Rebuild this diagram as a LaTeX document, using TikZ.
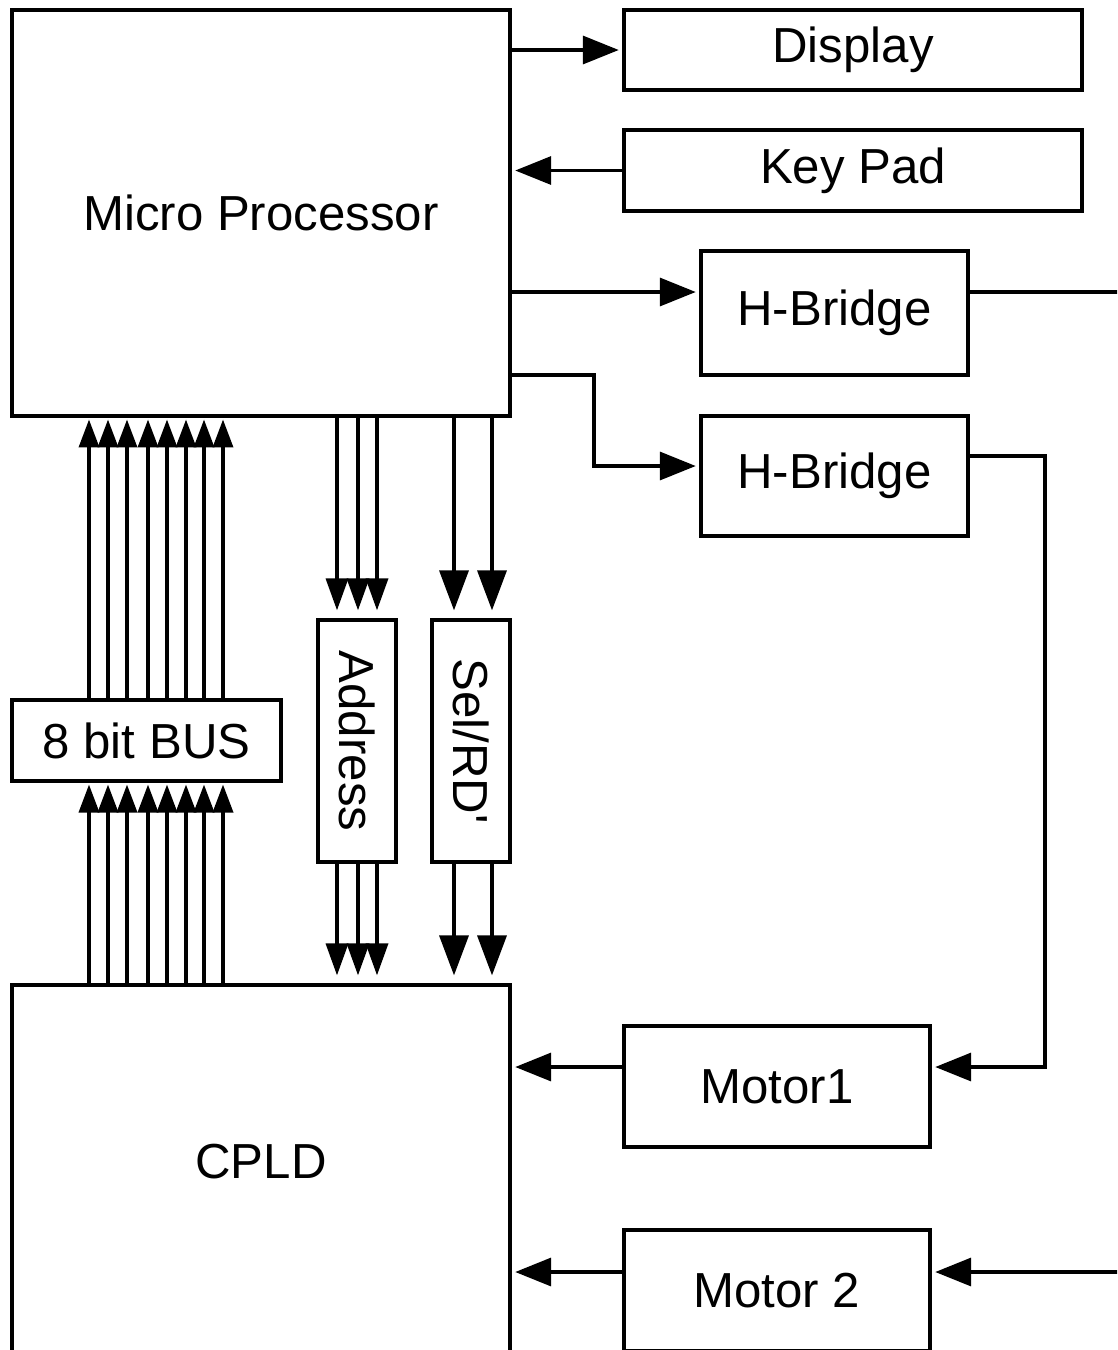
\documentclass[tikz,border=0pt]{standalone}
\usepackage{fontspec}
\setmainfont{Liberation Sans}
\usetikzlibrary{arrows.meta,calc}
\tikzset{
  block node/.style={draw=black,line width=2pt,inner sep=0pt,
    font=\fontsize{28}{32}\selectfont},
  sig arrow/.style={-{Triangle[length=0.72cm,width=0.56cm]},line width=2pt,
    shorten >=2pt},
  bus arrow/.style={-{Triangle[length=0.56cm,width=0.4cm]},line width=2pt,
    shorten >=1pt},
  addr arrow/.style={-{Triangle[length=0.64cm,width=0.44cm]},line width=2pt,
    shorten >=4.5pt},
  sel arrow/.style={-{Triangle[length=0.8cm,width=0.58cm]},line width=2pt,
    shorten >=4.5pt},
  plain wire/.style={line width=2pt}
}

\begin{document}
\begin{tikzpicture}[x=0.02cm,y=-0.02cm]
    \useasboundingbox (0,0) rectangle (1117,1350);
    \clip (0,0) rectangle (1117,1350);
    % blocks
    \node[block node,minimum width=9.96cm,minimum height=8.12cm] (mp) at (261,213)
      {Micro Processor};
    \node[block node,minimum width=9.16cm,minimum height=1.6cm] (disp) at (853,50)
      {Display};
    \node[block node,minimum width=9.16cm,minimum height=1.62cm] (keys) at (853,170.5)
      {Key Pad};
    \node[block node,minimum width=5.34cm,minimum height=2.48cm] (hb1) at (834.5,313)
      {H-Bridge};
    \node[block node,minimum width=5.34cm,minimum height=2.4cm] (hb2) at (834.5,476)
      {H-Bridge};
    \node[block node,minimum width=5.38cm,minimum height=1.62cm] (bus) at (146.5,740.5)
      {8 bit BUS};
    \node[block node,minimum width=1.56cm,minimum height=4.84cm] (addr) at (357,741)
      {\rotatebox{-90}{Address}};
    \node[block node,minimum width=1.56cm,minimum height=4.84cm] (sel) at (471,741)
      {\rotatebox{-90}{Sel/RD\textquotesingle}};
    \node[block node,minimum width=9.96cm,minimum height=9cm,
      label={[anchor=center,yshift=-3.56cm,font=\fontsize{28}{32}\selectfont]north:CPLD}]
      (cpld) at (261,1210) {};
    \node[block node,minimum width=6.12cm,minimum height=2.42cm] (mot1) at (777,1086.5)
      {Motor1};
    \node[block node,minimum width=6.12cm,minimum height=2.42cm] (mot2) at (777,1290.5)
      {Motor 2};
    \coordinate (out1) at (1130,292);
    \coordinate (in2) at (1130,1272);

    % processor side
    \draw[sig arrow] (mp.east |- disp) -- (disp);
    \draw[sig arrow] (keys) -- (mp.east |- keys);
    \draw[sig arrow] (mp.east |- 0,292) -- (hb1.west |- 0,292);
    \draw[sig arrow] (mp.east |- 0,375) -| (594,466) -- (hb2.west |- 0,466);
    \draw[plain wire] (hb1.east |- out1) -- (out1);
    \draw[sig arrow] (hb2.east |- 0,456) -| (1045,1067) -- (mot1.east |- 0,1067);

    % motor feedback
    \draw[sig arrow] (mot1.west |- 0,1067) -- (cpld.east |- 0,1067);
    \draw[sig arrow] (in2) -- (mot2.east |- in2);
    \draw[sig arrow] (mot2.west |- in2) -- (cpld.east |- in2);

    % data bus
    \foreach \x in {89,108,127,148,167,186,204,223} {
      \draw[bus arrow] (bus.north -| \x,0) -- (mp.south -| \x,0);
      \draw[bus arrow] (cpld.north -| \x,0) -- (bus.south -| \x,0);
    }
    % address and select lines
    \foreach \x in {337,358,377} {
      \draw[addr arrow] (mp.south -| \x,0) -- (addr.north -| \x,0);
      \draw[addr arrow] (addr.south -| \x,0) -- (cpld.north -| \x,0);
    }
    \foreach \x in {454,492} {
      \draw[sel arrow] (mp.south -| \x,0) -- (sel.north -| \x,0);
      \draw[sel arrow] (sel.south -| \x,0) -- (cpld.north -| \x,0);
    }
\end{tikzpicture}
\end{document}
